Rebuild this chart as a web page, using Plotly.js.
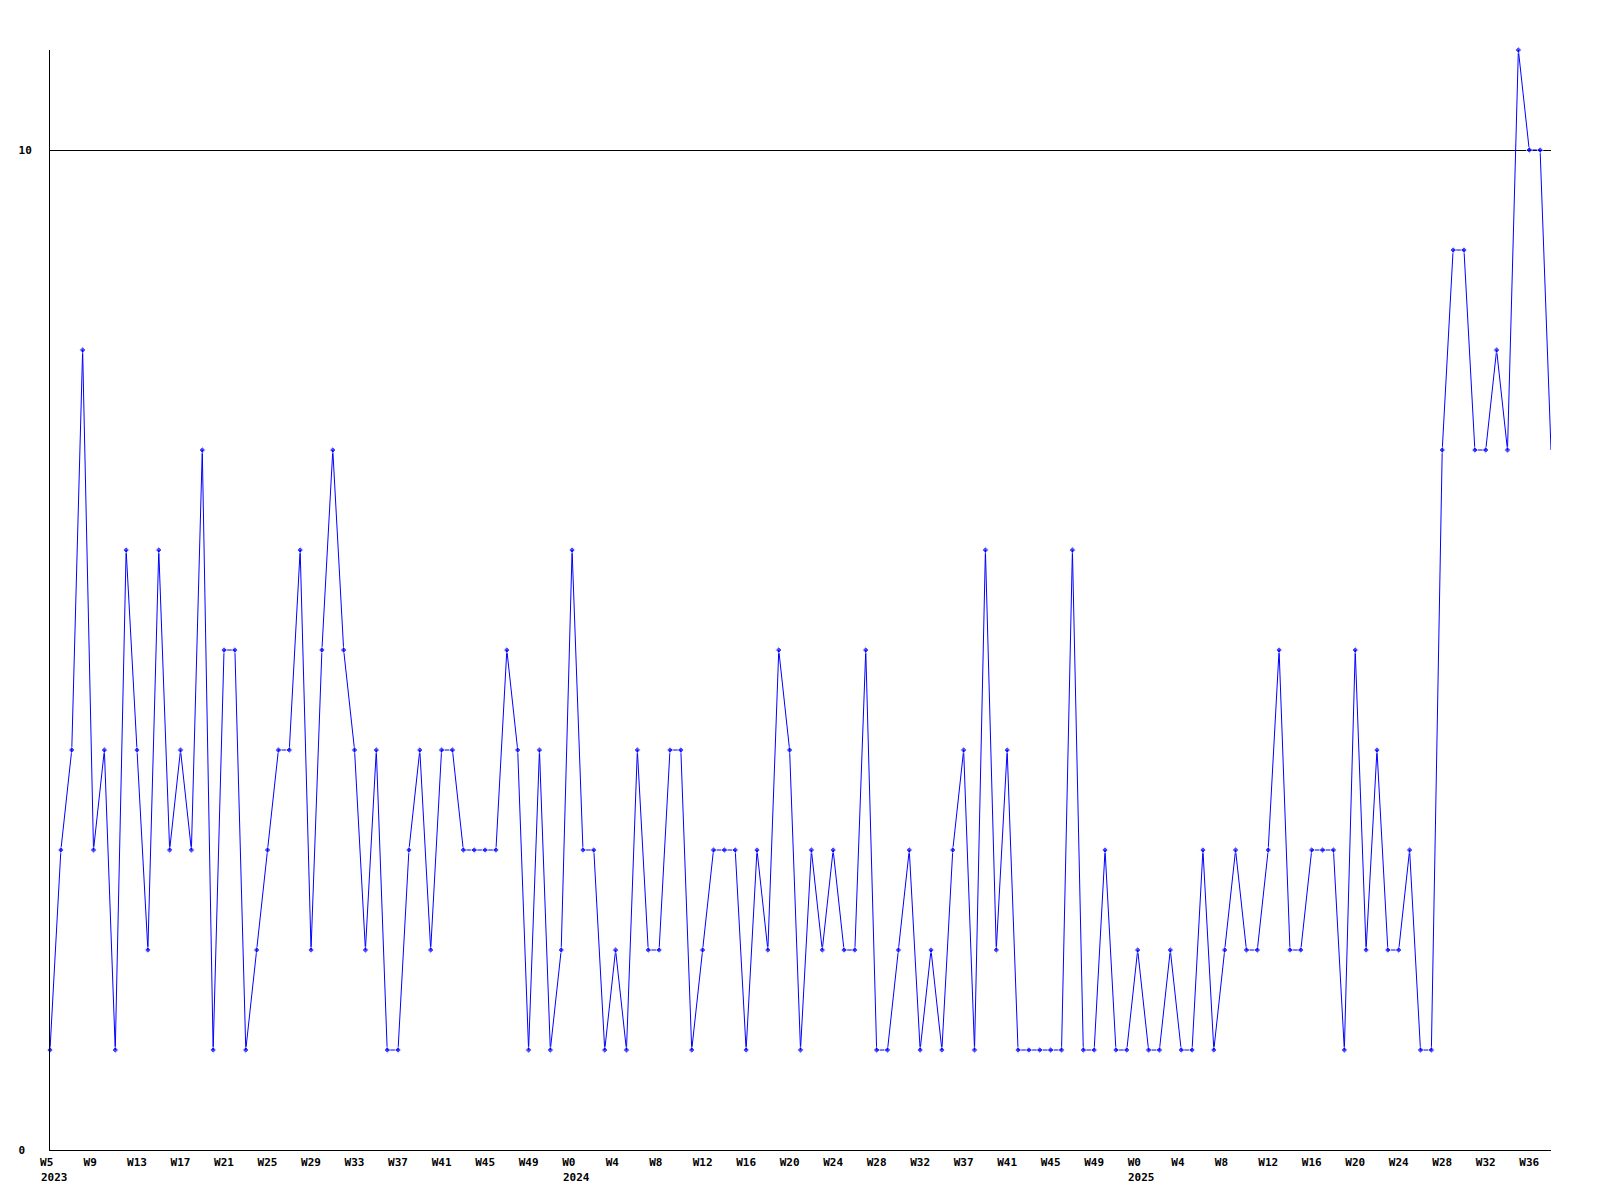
<!DOCTYPE html>
<html>
<head>
<meta charset="utf-8">
<script src="https://cdn.plot.ly/plotly-3.0.1.min.js"></script>
<style>
  html, body { margin: 0; padding: 0; background: #ffffff; }
  #chart { width: 1600px; height: 1200px; }
</style>
</head>
<body>
<div id="chart"></div>
<script>
// Weekly values, starting 2023 W5 (one value per week)
const values = [
  1,3,4,8,3,4,1,6,4,2,
  6,3,4,3,7,1,5,5,1,2,
  3,4,4,6,2,5,7,5,4,2,
  4,1,1,3,4,2,4,4,3,3,
  3,3,5,4,1,4,1,2,6,3,
  3,1,2,1,4,2,2,4,4,1,
  2,3,3,3,1,3,2,5,4,1,
  3,2,3,2,2,5,1,1,2,3,
  1,2,1,3,4,1,6,2,4,1,
  1,1,1,1,6,1,1,3,1,1,
  2,1,1,2,1,1,3,1,2,3,
  2,2,3,5,2,2,3,3,3,1,
  5,2,4,2,2,3,1,1,7,9,
  9,7,7,8,7,11,10,10,7
];

// Tick labels, one every 4 weeks
const weekLabels = [
  "W5","W9","W13","W17","W21","W25","W29","W33","W37","W41","W45","W49",
  "W0","W4","W8","W12","W16","W20","W24","W28","W32","W37","W41","W45","W49",
  "W0","W4","W8","W12","W16","W20","W24","W28","W32","W36"
];
const tickStep = 4;

// Year labels and the week-label index where each year starts
const years = ["2023", "2024", "2025"];
const yearStartLabel = [0, 12, 25];

const yTickVals = [0, 10];
const yTickText = ["0", "10"];

const NB = "\u00a0";
const xs = values.map((_, i) => i);
const tickvals = weekLabels.map((_, k) => k * tickStep);
const ticktext = weekLabels.map(t => t.length < 3 ? t + NB : t);
const markerSizes = values.map((_, i) => i === values.length - 1 ? 0 : 5);

const fontFam = "DejaVu Sans Mono, monospace";
const tickFont = { family: fontFam, size: 11, color: "#000000", weight: "bold" };

const trace = {
  x: xs,
  y: values,
  type: "scatter",
  mode: "lines+markers",
  line: { color: "#0000ff", width: 1 },
  marker: { color: "#0000ff", size: markerSizes, symbol: "diamond" },
  cliponaxis: false,
  hoverinfo: "skip"
};

const annotations = years.map((yr, j) => ({
  text: yr,
  x: yearStartLabel[j] * tickStep,
  xref: "x",
  y: 0,
  yref: "paper",
  xanchor: "left",
  yanchor: "middle",
  xshift: -10.5,
  yshift: -27,
  showarrow: false,
  borderpad: 0,
  font: tickFont
}));

const layout = {
  width: 1600,
  height: 1200,
  paper_bgcolor: "#ffffff",
  plot_bgcolor: "#ffffff",
  showlegend: false,
  margin: { l: 50, r: 49, t: 50, b: 50, pad: 0 },
  xaxis: {
    range: [0, values.length - 1],
    showline: true,
    linecolor: "#000000",
    linewidth: 1,
    showgrid: false,
    zeroline: false,
    ticks: "",
    tickmode: "array",
    tickvals: tickvals,
    ticktext: ticktext,
    tickfont: tickFont,
    ticklabelstandoff: 2,
    layer: "above traces",
    fixedrange: true
  },
  yaxis: {
    range: [0, 11],
    showline: true,
    linecolor: "#000000",
    linewidth: 1,
    showgrid: true,
    gridcolor: "#000000",
    gridwidth: 1,
    zeroline: false,
    ticks: "",
    tickmode: "array",
    tickvals: yTickVals,
    ticktext: yTickText.map(t => t.length < 2 ? t + NB : t),
    tickfont: tickFont,
    ticklabelstandoff: 15,
    layer: "above traces",
    fixedrange: true
  },
  annotations: annotations
};

Plotly.newPlot("chart", [trace], layout, { staticPlot: true, displayModeBar: false });
</script>
</body>
</html>
